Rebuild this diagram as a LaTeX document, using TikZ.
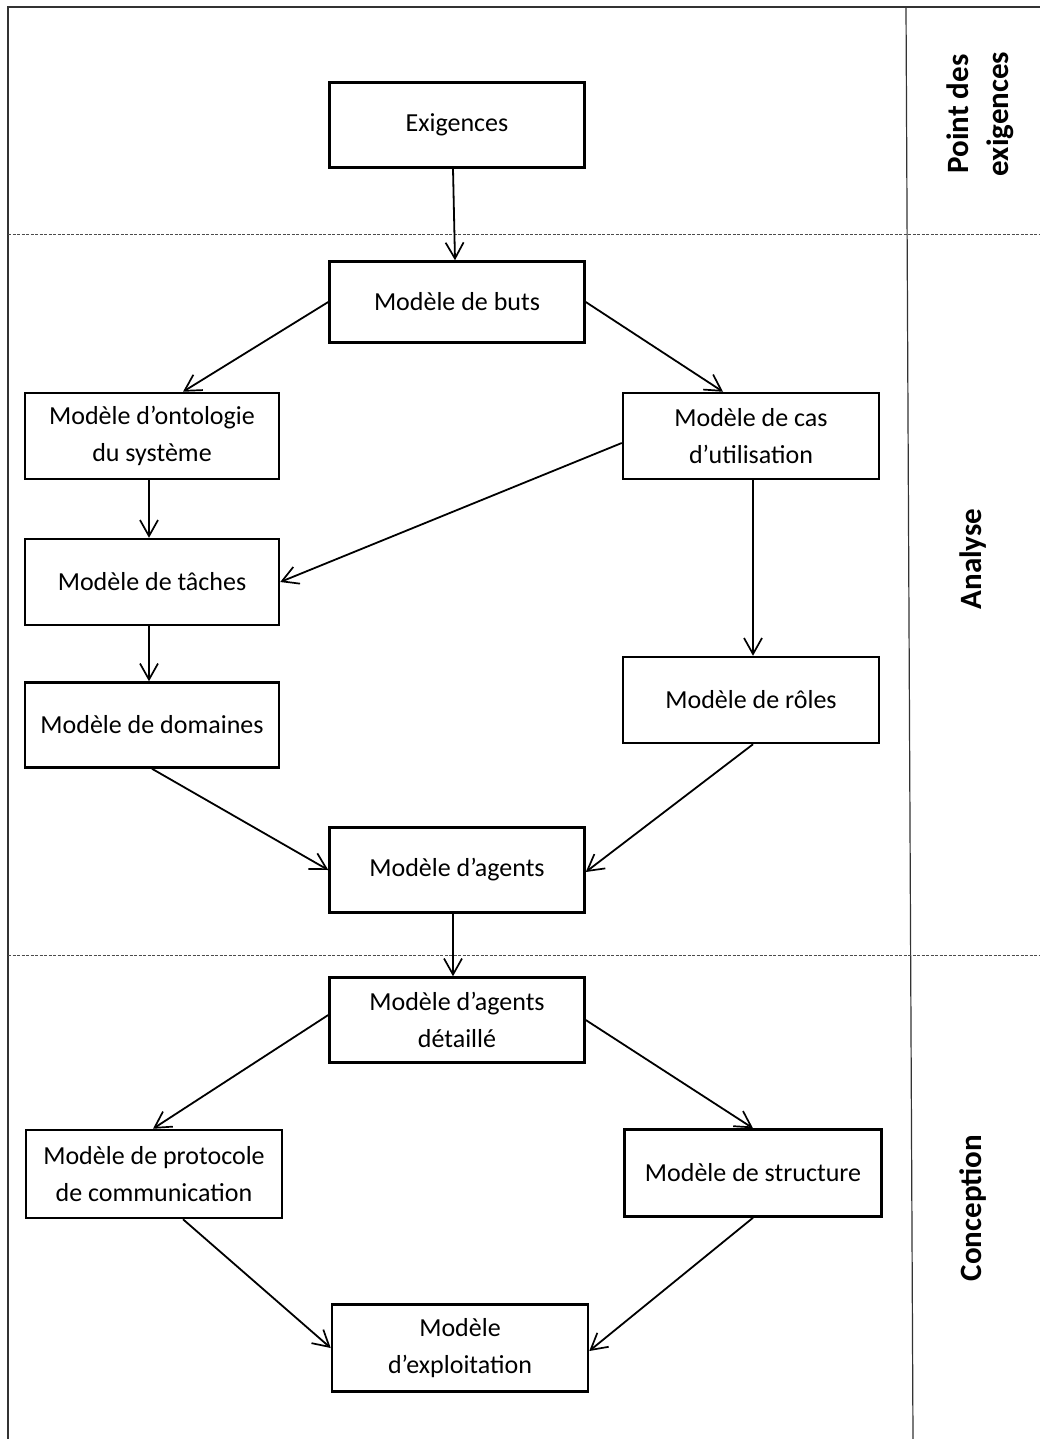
\documentclass[tikz,border=0pt]{standalone}
\usepackage{fontspec}
\setmainfont{Carlito}
\usetikzlibrary{arrows.meta,calc}
\tikzset{
  box/.style={draw, line width=2.5pt, rectangle, align=center, inner sep=0pt,
    font=\fontsize{26}{37}\selectfont},
  arr/.style={line width=1.8pt, -{Straight Barb[length=16pt,width=18pt,line width=1.7pt]}},
  sep/.style={line width=1pt, draw=black!70, dash pattern=on 3pt off 1.5pt},
  frame/.style={line width=1.2pt, draw=black!80},
  phase/.style={rotate=90, align=center, font=\fontsize{31}{40}\selectfont\bfseries}
}
\begin{document}
\begin{tikzpicture}[x=1pt,y=-1pt]
\useasboundingbox (0,0) rectangle (1040,1439);
\fill[white] (0,0) rectangle (1040,1439);
% frame
\draw[frame] (1040,7) -- (8,7) -- (8,1439);
\draw[frame] (906,7) -- (913,1439);
\draw[sep] (8,235) -- (1040,235);
\draw[sep] (8,955) -- (1040,955);
% phase labels
\node[phase] (p1) at (980,114) {Point des\\exigences};
\node[phase] (p2) at (973,559) {Analyse};
\node[phase] (p3) at (973,1208) {Conception};
% boxes
\node[box, minimum width=255pt, minimum height=85pt] (ex) at (457,125) {Exigences};
\node[box, minimum width=255pt, minimum height=81pt] (buts) at (457,302) {Modèle de buts};
\node[box, minimum width=254pt, minimum height=86pt] (onto) at (152,436) {Modèle d’ontologie\\du système};
\node[box, minimum width=256pt, minimum height=86pt] (cas) at (751,436) {Modèle de cas\\d’utilisation};
\node[box, minimum width=254pt, minimum height=86pt] (taches) at (152,582) {Modèle de tâches};
\node[box, minimum width=254pt, minimum height=85pt] (dom) at (152,725) {Modèle de domaines};
\node[box, minimum width=256pt, minimum height=86pt] (roles) at (751,700) {Modèle de rôles};
\node[box, minimum width=255pt, minimum height=85pt] (agents) at (457,870) {Modèle d’agents};
\node[box, minimum width=255pt, minimum height=85pt] (det) at (457,1020) {Modèle d’agents\\détaillé};
\node[box, minimum width=256pt, minimum height=88pt] (proto) at (154,1174) {Modèle de protocole\\de communication};
\node[box, minimum width=257pt, minimum height=87pt] (struct) at (753,1173) {Modèle de structure};
\node[box, minimum width=256pt, minimum height=87pt] (exploit) at (460,1348) {Modèle\\d’exploitation};
% connectors
\draw[arr] ([xshift=-4pt]ex.south) -- ([xshift=-2pt]buts.north);
\draw[arr] (buts.west) -- ([xshift=31pt]onto.north);
\draw[arr] (buts.east) -- ([xshift=-28pt]cas.north);
\draw[arr] ([xshift=-3pt]onto.south) -- ([xshift=-3pt]taches.north);
\draw[arr] ([yshift=-7pt]cas.west) -- (taches.east);
\draw[arr] ([xshift=-3pt]taches.south) -- ([xshift=-3pt]dom.north);
\draw[arr] ([xshift=2pt]cas.south) -- ([xshift=2pt]roles.north);
\draw[arr] (dom.south) -- (agents.west);
\draw[arr] ([xshift=2pt]roles.south) -- ([yshift=-2pt]agents.east);
\draw[arr] ([xshift=-4pt]agents.south) -- ([xshift=-4pt]det.north);
\draw[arr] ([yshift=5pt]det.west) -- ([xshift=-1pt]proto.north);
\draw[arr] (det.east) -- (struct.north);
\draw[arr] ([xshift=29pt]proto.south) -- (exploit.west);
\draw[arr] (struct.south) -- ([yshift=-3pt]exploit.east);
\end{tikzpicture}
\end{document}
